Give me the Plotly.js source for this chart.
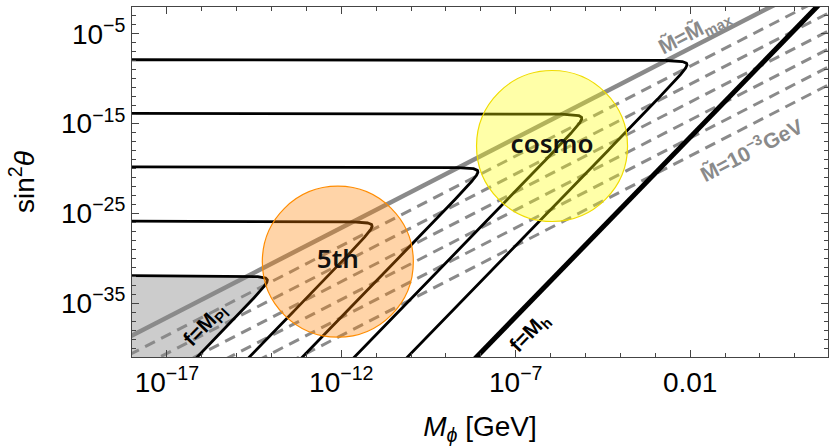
<!DOCTYPE html>
<html><head><meta charset="utf-8">
<script src="https://cdn.plot.ly/plotly-3.0.1.min.js"></script>
<style>html,body{margin:0;padding:0;background:#fff;}#chart{width:830px;height:446px;}</style>
</head><body><div id="chart"></div>
<script>
// ---- values (log10 units) ----
// horizontal plateaus of the five f-curves (log10 sin^2 theta)
const plateauLog10Sin2 = [-7.87, -13.85, -19.8, -25.85, -31.9];
// intercepts of the slope-4 branches: log10 sin^2 = 4 log10 M + c
const fBranchIntercept = [-0.6, 5.48, 11.44, 17.52, 23.48];
const fSlope = 4;
// thick f = M_h line intercept
const fMhIntercept = -8.51;
// M-tilde lines (slope 2): first = M-tilde max (solid), rest dashed, last = 1e-3 GeV
const mTildeSlope = 2;
const mTildeIntercept = [-2.6, -4.6, -6.6, -8.6, -10.6, -12.6, -14.6];
// highlighted regions
const regionNames = ['5th', 'cosmo'];
const regionLog10M = [-12.10, -5.96];
const regionLog10Sin2 = [-30.38, -17.49];
// axes
const xRangeLog = [-18, 1.95];
const yRangeLog = [-41, -2];
const xTickExp = [-17, -12, -7, -2];
const xTickText = ['10<sup>−17</sup>', '10<sup>−12</sup>', '10<sup>−7</sup>', '0.01'];
const yTickExp = [-35, -25, -15, -5];
const yTickText = ['10<sup>−35</sup>', '10<sup>−25</sup>', '10<sup>−15</sup>', '10<sup>−5</sup>'];

const roundness = 0.3; // sharpness of the turn-over of each f-curve
function fCurve(L, c) {
  const xs = [], ys = [];
  const uStar = (L - c) / fSlope;
  const dMin = roundness / (fSlope * (uStar + 19));
  const dMax = L + 42;
  const n = 500;
  for (let i = 0; i <= n; i++) {
    const d = dMin * Math.pow(dMax / dMin, i / n);
    const v = L - d;
    const u = (v - c - roundness / d) / fSlope;
    xs.push(Math.pow(10, u)); ys.push(Math.pow(10, v));
  }
  return {x: xs, y: ys};
}
function straight(slope, b) {
  const us = [-19, 3];
  return {x: us.map(u => Math.pow(10, u)), y: us.map(u => Math.pow(10, slope * u + b))};
}

const traces = [];
// grey excluded region under the lowest curve
const low = fCurve(plateauLog10Sin2[4], fBranchIntercept[4]);
traces.push({x: low.x.concat([1e-19]), y: low.y.concat([1e-42]), mode: 'lines', fill: 'toself',
  fillcolor: '#cccccc', line: {width: 0}, hoverinfo: 'skip', showlegend: false});
// M-tilde lines
mTildeIntercept.forEach((b, i) => {
  const s = straight(mTildeSlope, b);
  traces.push({x: s.x, y: s.y, mode: 'lines', showlegend: false, hoverinfo: 'skip',
    line: i === 0 ? {color: '#8a8a8a', width: 4.5} : {color: '#8a8a8a', width: 3, dash: '11px,7px'}});
});
// f curves
plateauLog10Sin2.forEach((L, i) => {
  const cv = fCurve(L, fBranchIntercept[i]);
  traces.push({x: cv.x, y: cv.y, mode: 'lines', showlegend: false, hoverinfo: 'skip',
    line: {color: '#000', width: 2.8}});
});
const mh = straight(fSlope, fMhIntercept);
traces.push({x: mh.x, y: mh.y, mode: 'lines', showlegend: false, hoverinfo: 'skip', line: {color: '#000', width: 5}});
// regions
const regionFill = ['rgba(255,128,0,0.34)', 'rgba(255,255,0,0.34)'];
const regionLine = ['#ff8c00', '#f0dc00'];
regionNames.forEach((nm, i) => {
  traces.push({x: [Math.pow(10, regionLog10M[i])], y: [Math.pow(10, regionLog10Sin2[i])],
    mode: 'markers+text', text: [nm], textposition: 'middle center',
    textfont: {family: 'Noto Sans', size: 26, color: '#111', weight: 600},
    marker: {size: 151, color: regionFill[i], line: {color: regionLine[i], width: 1.2}},
    showlegend: false, hoverinfo: 'skip'});
});

const ax = {
  showgrid: false, zeroline: false, showline: true, linecolor: '#444', linewidth: 1,
  mirror: 'allticks', ticks: 'inside', ticklen: 7, tickwidth: 1, tickcolor: '#444',
  tickfont: {family: 'Liberation Sans, Arial', size: 28, color: '#000'}
};
function minorVals(r) { const a = []; for (let e = Math.ceil(r[0]); e <= Math.floor(r[1]); e++) a.push(Math.pow(10, e)); return a; }

const layout = {
  width: 830, height: 446, margin: {l: 132, r: 2, t: 7, b: 89},
  paper_bgcolor: '#fff', plot_bgcolor: '#fff',
  xaxis: Object.assign({}, ax, {type: 'log', range: xRangeLog,
    tickvals: xTickExp.map(e => Math.pow(10, e)), ticktext: xTickText,
    minor: {tickvals: minorVals(xRangeLog), ticks: 'inside', ticklen: 4, tickcolor: '#444', showgrid: false},
    title: {text: '<i>M</i><sub><i>ϕ</i></sub> [GeV]', font: {family: 'Liberation Sans, Arial', size: 28, color: '#000'}, standoff: 30}}),
  yaxis: Object.assign({}, ax, {type: 'log', range: yRangeLog,
    tickvals: yTickExp.map(e => Math.pow(10, e)), ticktext: yTickText,
    minor: {tickvals: minorVals(yRangeLog), ticks: 'inside', ticklen: 4, tickcolor: '#444', showgrid: false},
    title: {text: 'sin<sup>2</sup><i>θ</i>', font: {family: 'Liberation Sans, Arial', size: 28, color: '#000'}, standoff: 18}}),
  annotations: [
    {x: -1.877, y: -4.73, text: '<b>M̃=M̃<sub>max</sub></b>', textangle: -27.2},
    {x: -0.258, y: -17.82, text: '<b>M̃=10<sup>−3</sup>GeV</b>', textangle: -27.2},
    {x: -15.89, y: -37.44, text: '<b>f=M<sub>Pl</sub></b>', textangle: -45.8, color: '#000'},
    {x: -6.6, y: -38.33, text: '<b>f=M<sub>h</sub></b>', textangle: -45.8, color: '#000'}
  ].map(a => ({xref: 'x', yref: 'y', x: a.x, y: a.y, text: a.text, textangle: a.textangle, showarrow: false,
    font: {family: 'Liberation Sans, Arial', size: 21, color: a.color || '#8a8a8a'}}))
};
Plotly.newPlot('chart', traces, layout, {staticPlot: true, displayModeBar: false});
</script></body></html>
